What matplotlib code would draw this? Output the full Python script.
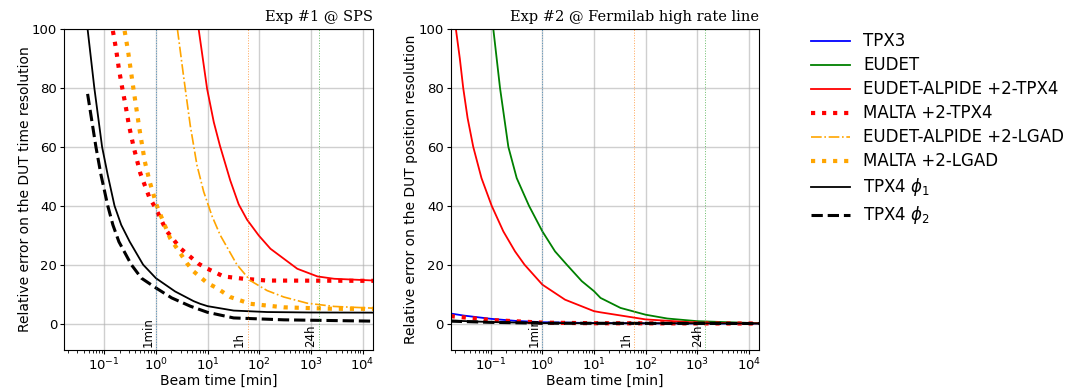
import matplotlib
matplotlib.use("Agg")
import matplotlib.pyplot as plt

# ---- Exp #1 @ SPS : relative error on DUT time resolution ----
sps_tpx4_phi1_x = [0.0476, 0.0643, 0.0908, 0.117, 0.158, 0.213, 0.311, 0.565, 1, 2.35, 5.37, 7.2, 10, 32, 142, 1000, 17000]
sps_tpx4_phi1_y = [100, 80, 60, 50.4, 40, 33.5, 27.8, 20, 15.4, 10.9, 7.6, 6.7, 5.9, 4.4, 3.9, 3.75, 3.7]
sps_tpx4_phi2_x = [0.0476, 0.069, 0.0867, 0.117, 0.147, 0.192, 0.334, 0.525, 1, 2.02, 4.62, 10, 32, 300, 17000]
sps_tpx4_phi2_y = [78, 60, 50.4, 40, 33.5, 27.8, 20, 15.4, 12.1, 8.7, 5.9, 3.8, 1.9, 1.25, 0.8]
sps_malta_tpx4_x = [0.147, 0.17, 0.192, 0.223, 0.259, 0.301, 0.37, 0.5, 0.74, 1, 1.6, 3, 6.7, 10, 20.4, 50, 142, 17000]
sps_malta_tpx4_y = [99.4, 93, 86.5, 80, 74, 67.3, 60, 51, 43, 39, 31.5, 25.5, 20.3, 18.6, 16, 15.2, 14.6, 14.5]
sps_malta_lgad_x = [0.248, 0.288, 0.36, 0.419, 0.486, 0.61, 0.763, 1.03, 1.39, 1.88, 3.98, 5.37, 9.8, 15.3, 27.5, 67, 300, 2800, 17000]
sps_malta_lgad_y = [99.4, 92.7, 80.8, 73, 65.5, 55, 48, 40.2, 34.6, 29, 20.5, 17.7, 13.8, 12.0, 9, 6.7, 5.5, 5.0, 5.0]
sps_alpide_lgad_x = [2.61, 3.42, 4.62, 6.23, 8.4, 12.2, 17.6, 37, 67, 142, 300, 850, 2820, 17000]
sps_alpide_lgad_y = [100, 84.2, 67.3, 53.8, 44.8, 36.5, 30, 20, 14.6, 11.2, 9, 6.9, 5.8, 5.2]
sps_alpide_tpx4_x = [6.72, 9.8, 13.2, 17.3, 27.5, 40, 58, 98, 165, 300, 546, 1337, 2820, 17000]
sps_alpide_tpx4_y = [100, 79.7, 68.4, 60.5, 48.6, 40.5, 35.3, 29.9, 25.4, 22, 18.6, 16, 15.2, 14.6]

# ---- Exp #2 @ Fermilab : relative error on DUT position resolution ----
fnal_tpx3_x = [0.0167, 0.03, 0.1, 0.3, 1, 10, 100, 17000]
fnal_tpx3_y = [3.4, 2.7, 1.6, 0.9, 0.45, 0.15, 0.05, 0.0]
fnal_eudet_x = [0.112, 0.151, 0.219, 0.318, 0.55, 1, 1.76, 2.97, 5.8, 10, 13.4, 32.7, 100, 264, 1000, 17000]
fnal_eudet_y = [100, 80, 60, 49.4, 40, 31.3, 24.5, 20, 14.4, 11, 8.7, 5.3, 3.0, 1.7, 0.8, 0.05]
fnal_alpide_tpx4_x = [0.0207, 0.0251, 0.0292, 0.0355, 0.0457, 0.066, 0.104, 0.175, 0.295, 0.45, 1, 2.75, 10, 13.4, 100, 1000, 17000]
fnal_alpide_tpx4_y = [101, 90, 80, 69.8, 60, 49.4, 40, 31.3, 24.5, 20, 13.2, 8.1, 4.2, 3.8, 1.4, 0.3, 0.05]
fnal_malta_tpx4_x = [0.0167, 0.1, 1, 10, 17000]
fnal_malta_tpx4_y = [2.5, 1.2, 0.3, 0.1, 0.0]
fnal_tpx4_phi1_x = [0.0167, 0.1, 1, 17000]
fnal_tpx4_phi1_y = [1.0, 0.5, 0.15, 0.02]
fnal_tpx4_phi2_x = [0.0167, 0.1, 1, 17000]
fnal_tpx4_phi2_y = [0.8, 0.4, 0.1, 0.01]

markers_x = [1, 60, 1440]
markers_label = ["1min", "1h", "24h"]
markers_color = ["C0", "C1", "C2"]

fig = plt.figure(figsize=(10.82, 3.88), dpi=100)
ax1 = fig.add_axes([0.0592, 0.0979, 0.2856, 0.827])
ax2 = fig.add_axes([0.4165, 0.0979, 0.2852, 0.827])

ax1.plot(sps_alpide_tpx4_x, sps_alpide_tpx4_y, color="red", lw=1.3, label="EUDET-ALPIDE +2-TPX4")
ax1.plot(sps_malta_tpx4_x, sps_malta_tpx4_y, color="red", lw=3, ls=":", label="MALTA +2-TPX4")
ax1.plot(sps_alpide_lgad_x, sps_alpide_lgad_y, color="orange", lw=1.2, ls="-.", label="EUDET-ALPIDE +2-LGAD")
ax1.plot(sps_malta_lgad_x, sps_malta_lgad_y, color="orange", lw=3, ls=":", label="MALTA +2-LGAD")
ax1.plot(sps_tpx4_phi1_x, sps_tpx4_phi1_y, color="black", lw=1.3, label=r"TPX4 $\phi_1$")
ax1.plot(sps_tpx4_phi2_x, sps_tpx4_phi2_y, color="black", lw=2.2, ls="--", label=r"TPX4 $\phi_2$")

h_tpx3, = ax2.plot(fnal_tpx3_x, fnal_tpx3_y, color="blue", lw=1.3, label="TPX3")
h_eudet, = ax2.plot(fnal_eudet_x, fnal_eudet_y, color="green", lw=1.3, label="EUDET")
ax2.plot(fnal_alpide_tpx4_x, fnal_alpide_tpx4_y, color="red", lw=1.3)
ax2.plot(fnal_malta_tpx4_x, fnal_malta_tpx4_y, color="red", lw=3, ls=":")
ax2.plot(fnal_tpx4_phi1_x, fnal_tpx4_phi1_y, color="black", lw=1.3)
ax2.plot(fnal_tpx4_phi2_x, fnal_tpx4_phi2_y, color="black", lw=2.2, ls="--")

for ax, title, ylabel in [
    (ax1, "Exp #1 @ SPS", "Relative error on the DUT time resolution"),
    (ax2, "Exp #2 @ Fermilab high rate line", "Relative error on the DUT position resolution"),
]:
    ax.set_xscale("log")
    ax.set_xlim(1 / 60, 1.6e4)
    ax.set_ylim(-9, 100)
    ax.set_yticks([0, 20, 40, 60, 80, 100])
    ax.grid(True, which="major", color="#b0b0b0", alpha=0.6, lw=1)
    for xv, lab, col in zip(markers_x, markers_label, markers_color):
        ax.axvline(xv, color=col, ls=":", lw=0.7, alpha=0.7)
        ax.text(xv * 0.93, -8, lab, rotation=90, ha="right", va="bottom", fontsize=8.5)
    ax.set_xlabel("Beam time [min]", fontsize=10, labelpad=0)
    ax.set_ylabel(ylabel, fontsize=10, labelpad=0)
    ax.tick_params(labelsize=9.5, length=3, pad=2)
    ax.tick_params(which="minor", length=2)
    ax.set_title(title, loc="right", family="DejaVu Serif", fontsize=10.5)

handles = [h_tpx3, h_eudet] + ax1.get_lines()[:6]
fig.legend(handles=handles, labels=[h.get_label() for h in handles],
           loc="upper left", bbox_to_anchor=(0.736, 0.955), frameon=False,
           fontsize=12, handlelength=2.3, handletextpad=0.8, labelspacing=0.36)

fig.savefig("out.png", dpi=100)
